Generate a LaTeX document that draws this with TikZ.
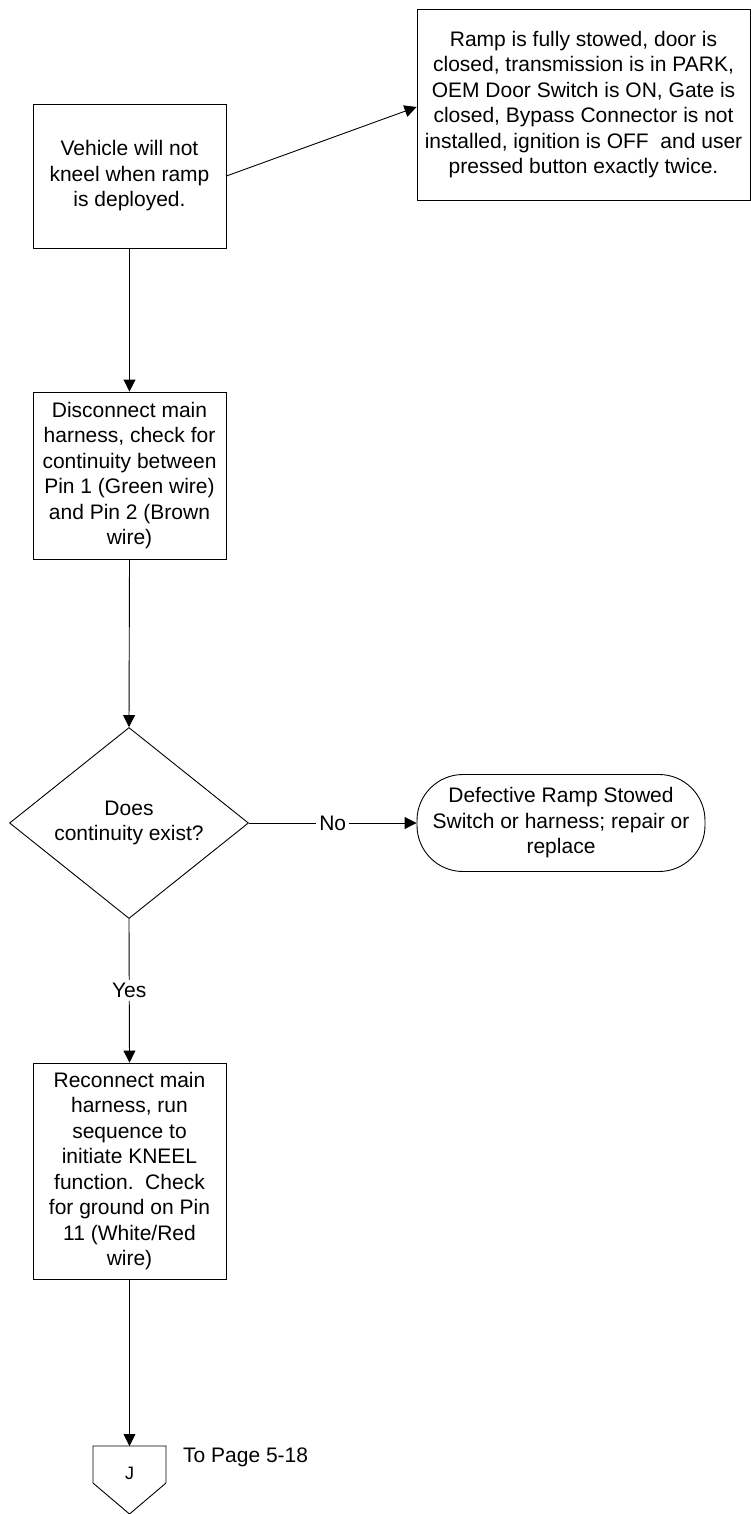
\documentclass[tikz,border=0pt]{standalone}
\usepackage{fontspec}
\setmainfont{Liberation Sans}
\usetikzlibrary{shapes.geometric,arrows.meta}

\begin{document}
\begin{tikzpicture}[x=1pt,y=-1pt,
  every node/.style={font=\fontsize{21}{25.5}\selectfont, align=center, inner sep=0pt},
  stepbox/.style={draw, rectangle, line width=0.9pt},
  decision/.style={draw, diamond, line width=0.9pt, aspect=1.25},
  terminal/.style={draw, rectangle, rounded corners=46pt, line width=0.9pt},
  edgelabel/.style={fill=white, inner sep=3pt},
  flow/.style={line width=0.9pt, -{Triangle[length=12pt,width=12pt]}},
  plain/.style={line width=0.9pt}]

  \useasboundingbox[fill=white] (0,0) rectangle (751,1514);

  % process steps
  \node[stepbox, minimum width=193pt, minimum height=144pt] (start) at (129.5,176)
    {Vehicle will not\\kneel when ramp\\is deployed.};
  \node[stepbox, minimum width=333pt, minimum height=191pt] (cond) at (583.5,104.5)
    {Ramp is fully stowed, door is\\closed, transmission is in PARK,\\OEM Door Switch is ON, Gate is\\closed, Bypass Connector is not\\installed, ignition is OFF\ \ and user\\pressed button exactly twice.};
  \node[stepbox, minimum width=193pt, minimum height=167pt] (disc) at (129.5,475.5)
    {Disconnect main\\harness, check for\\continuity between\\Pin 1 (Green wire)\\and Pin 2 (Brown\\wire)};
  \node[decision, minimum width=239pt, minimum height=191pt] (cont) at (129,823)
    {Does\\continuity exist?};
  \node[terminal, minimum width=288pt, minimum height=97pt] (defect) at (561,823)
    {Defective Ramp Stowed\\Switch or harness; repair or\\replace};
  \node[stepbox, minimum width=193pt, minimum height=216pt] (recon) at (129.5,1171)
    {Reconnect main\\harness, run\\sequence to\\initiate KNEEL\\function.\ \ Check\\for ground on Pin\\11 (White/Red\\wire)};

  % off-page connector
  \coordinate (jtop) at (129.5,1446);
  \draw[plain] (93,1446) -- (166,1446) -- (166,1483) -- (129.5,1514) -- (93,1483) -- cycle;
  \node[font=\fontsize{18}{21}\selectfont] (jlabel) at (129.5,1473) {J};
  \node[anchor=west] (topage) at (183,1457) {To Page 5-18};

  % connectors
  \draw[flow] (start.east) -- ([yshift=-2.5pt]cond.west);
  \draw[flow] (start.south) -- (disc.north);
  \draw[flow] (disc.south) -- (cont.north);
  \draw[flow] (cont.east) -- node[edgelabel, pos=0.5] {No} (defect.west);
  \draw[flow] (cont.south) -- node[edgelabel, pos=0.5] {Yes} (recon.north);
  \draw[flow] (recon.south) -- (jtop);
\end{tikzpicture}
\end{document}
